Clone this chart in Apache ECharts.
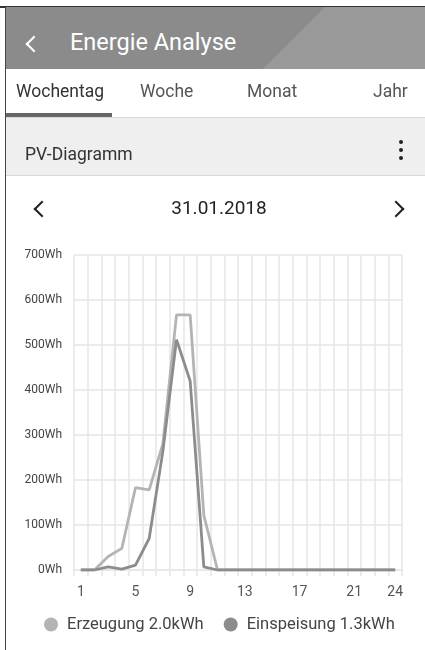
<!DOCTYPE html>
<html>
<head>
<meta charset="utf-8">
<script src="https://cdn.jsdelivr.net/npm/echarts@6/dist/echarts.min.js"></script>
<style>
  html, body { margin: 0; padding: 0; width: 425px; height: 650px; overflow: hidden; background: #fff; font-family: Roboto, "Noto Sans", sans-serif; }
  .abs { position: absolute; white-space: nowrap; }
  #chart { position: absolute; left: 0; top: 0; width: 425px; height: 650px; }
  .chev { position: absolute; width: 10px; height: 10px; border-left: 2.5px solid; border-bottom: 2.5px solid; }
</style>
</head>
<body>
<div id="chart"></div>
<!-- app chrome -->
<div class="abs" style="left:0;top:6px;width:425px;height:1.5px;background:#333;"></div>
<div class="abs" style="left:6px;top:7px;width:419px;height:62px;background:#8b8b8b;"></div>
<div class="abs" style="left:6px;top:7px;width:419px;height:62px;background:#9a9a9a;clip-path:polygon(257px 62px, 319px 0px, 419px 0px, 419px 62px);"></div>
<div class="chev" style="left:28px;top:38px;border-color:#fff;transform:rotate(45deg);"></div>
<div class="abs" style="left:70px;top:28px;font-size:23.5px;color:#fff;line-height:28px;">Energie Analyse</div>

<div class="abs" style="left:16px;top:78px;font-size:17.5px;color:#333;line-height:26px;">Wochentag</div>
<div class="abs" style="left:140px;top:78px;font-size:17.5px;color:#555;line-height:26px;">Woche</div>
<div class="abs" style="left:247px;top:78px;font-size:17.5px;color:#555;line-height:26px;">Monat</div>
<div class="abs" style="left:373px;top:78px;font-size:17.5px;color:#555;line-height:26px;">Jahr</div>
<div class="abs" style="left:6px;top:113px;width:106px;height:4px;background:#666;"></div>
<div class="abs" style="left:6px;top:117px;width:419px;height:1px;background:#d8d8d8;"></div>
<div class="abs" style="left:6px;top:118px;width:419px;height:57px;background:#efefef;"></div>
<div class="abs" style="left:6px;top:175px;width:419px;height:1px;background:#d8d8d8;"></div>
<div class="abs" style="left:25px;top:141px;font-size:17.5px;color:#333;line-height:26px;">PV-Diagramm</div>
<div class="abs" style="left:399px;top:140px;width:4px;height:4px;border-radius:2px;background:#222;"></div>
<div class="abs" style="left:399px;top:148px;width:4px;height:4px;border-radius:2px;background:#222;"></div>
<div class="abs" style="left:399px;top:156px;width:4px;height:4px;border-radius:2px;background:#222;"></div>

<div class="chev" style="left:36px;top:203px;border-color:#222;transform:rotate(45deg);"></div>
<div class="chev" style="left:390px;top:203px;border-color:#222;transform:rotate(-135deg);"></div>
<div class="abs" style="left:0;top:194px;width:438px;text-align:center;font-size:19px;color:#222;line-height:28px;">31.01.2018</div>
<div class="abs" style="left:4.5px;top:7px;width:1.5px;height:643px;background:#444;"></div>

<script>
// ---- data ----
const hours = ['1','2','3','4','5','6','7','8','9','10','11','12','13','14','15','16','17','18','19','20','21','22','23','24'];
const erzeugung = [0, 0, 30, 48, 183, 178, 280, 567, 567, 122, 0, 0, 0, 0, 0, 0, 0, 0, 0, 0, 0, 0, 0, 0];
const einspeisung = [0, 0, 7, 2, 11, 70, 263, 512, 420, 7, 0, 0, 0, 0, 0, 0, 0, 0, 0, 0, 0, 0, 0, 0];
const seriesNames = ['Erzeugung', 'Einspeisung'];
const yTicks = [0, 100, 200, 300, 400, 500, 600, 700];
const shownHourLabels = ['1', '5', '9', '13', '17', '21', '24'];

const totals = {};
totals[seriesNames[0]] = erzeugung.reduce((a, b) => a + b, 0);
totals[seriesNames[1]] = einspeisung.reduce((a, b) => a + b, 0);

const chart = echarts.init(document.getElementById('chart'), null, { renderer: 'canvas' });
chart.setOption({
  animation: false,
  backgroundColor: 'transparent',
  color: ['#b4b4b4', '#8c8c8c'],
  grid: { left: 74, right: 23, top: 255, bottom: 80, containLabel: false },
  legend: {
    data: seriesNames,
    top: 616,
    left: 44,
    width: 381,
    padding: 0,
    icon: 'circle',
    itemWidth: 14,
    itemHeight: 14,
    itemGap: 20,
    textStyle: { fontSize: 16.5, color: '#444', fontFamily: 'Roboto', padding: [0, 0, 0, 4] },
    formatter: function (name) { return name + ' ' + (totals[name] / 1000).toFixed(1) + 'kWh'; }
  },
  xAxis: {
    type: 'category',
    data: hours,
    boundaryGap: true,
    axisLine: { show: true, lineStyle: { color: '#e6e6e6', width: 1.5 } },
    axisTick: { show: true, interval: 0, length: 6, lineStyle: { color: '#e6e6e6', width: 1.5 } },
    splitLine: { show: true, interval: 0, lineStyle: { color: '#e6e6e6', width: 1.5 } },
    axisLabel: {
      interval: function (i, v) { return shownHourLabels.indexOf(v) >= 0; },
      margin: 15, fontSize: 14, color: '#555', fontFamily: 'Roboto'
    }
  },
  yAxis: {
    type: 'value',
    min: yTicks[0],
    max: yTicks[yTicks.length - 1],
    interval: yTicks[1] - yTicks[0],
    axisLine: { show: false },
    axisTick: { show: false },
    splitLine: { show: true, lineStyle: { color: '#e6e6e6', width: 1.5 } },
    axisLabel: { formatter: '{value}Wh', margin: 12, fontSize: 12, color: '#444', fontFamily: 'Roboto' }
  },
  series: [
    { name: seriesNames[0], type: 'line', data: erzeugung, showSymbol: false, symbol: 'none',
      lineStyle: { width: 2.8, color: '#b4b4b4' }, itemStyle: { color: '#b4b4b4' } },
    { name: seriesNames[1], type: 'line', data: einspeisung, showSymbol: false, symbol: 'none',
      lineStyle: { width: 2.8, color: '#8c8c8c' }, itemStyle: { color: '#8c8c8c' } }
  ]
});
</script>
</body>
</html>
